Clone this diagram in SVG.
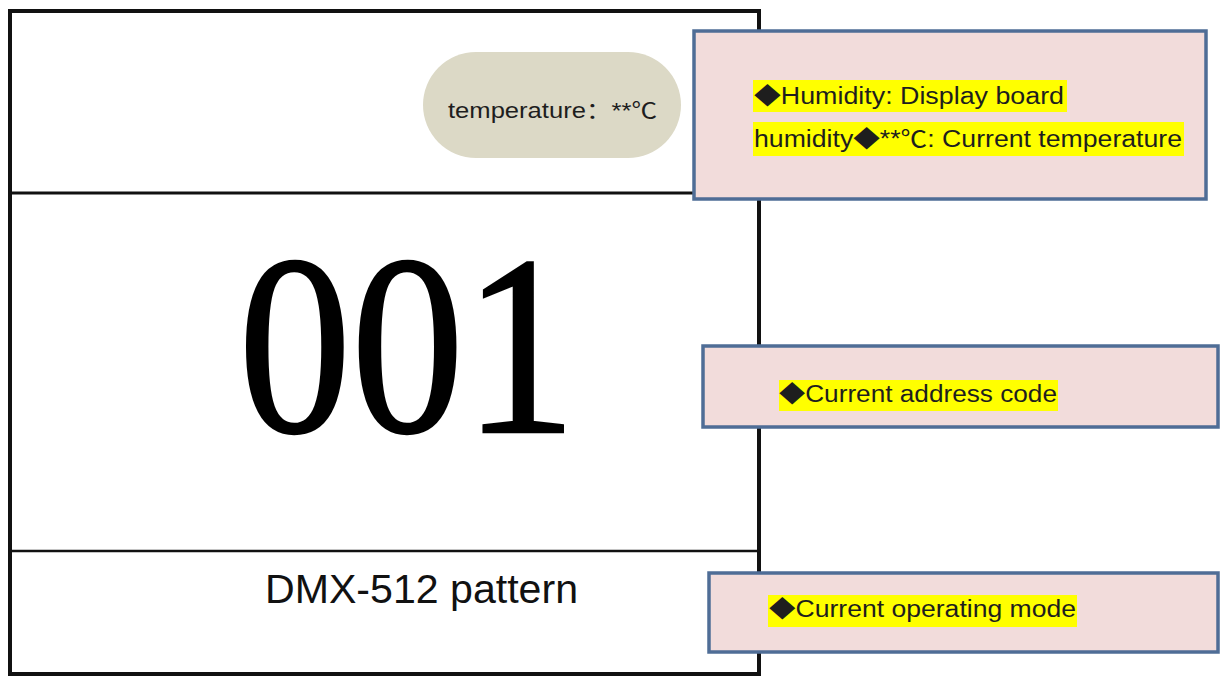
<svg xmlns="http://www.w3.org/2000/svg" width="1220" height="677" viewBox="0 0 1220 677">
<style>
.note{fill:#f2dcdb;stroke:#4f6d96;stroke-width:3.5}
.hl{fill:#ffff00}
.nt{font-family:"Liberation Sans","Noto Sans CJK SC",sans-serif;font-size:23px;fill:#1e1e1e}
.ln{stroke:#111;fill:none}
.big{font-family:"Liberation Serif",serif;font-size:256px;fill:#000;stroke:#000;stroke-width:2.5}
</style>
<rect width="1220" height="677" fill="#ffffff"/>
<g id="panel">
<rect class="ln" x="10" y="11" width="749" height="663" stroke-width="4"/>
<line class="ln" x1="10" y1="193" x2="759" y2="193" stroke-width="3"/>
<line class="ln" x1="10" y1="551" x2="759" y2="551" stroke-width="2.5"/>
</g>
<g id="temp-pill">
<rect x="423" y="52" width="258" height="106" rx="53" fill="#dcd9c6"/>
<text x="448" y="118" font-family="Liberation Sans,'Noto Sans CJK SC',sans-serif" font-size="22" fill="#1e1e1e" textLength="209" lengthAdjust="spacingAndGlyphs">temperature：**℃</text>
</g>
<g id="address">
<text class="big" transform="translate(243,432) scale(0.88,1)" x="-5" y="0">001</text>
</g>
<g id="mode">
<text x="265" y="603" font-family="'Liberation Sans',sans-serif" font-size="41" fill="#111" textLength="313" lengthAdjust="spacingAndGlyphs">DMX-512 pattern</text>
</g>
<g id="note-humidity">
<rect class="note" x="694" y="31" width="512" height="168"/>
<rect class="hl" x="753" y="80" width="314" height="32"/>
<rect class="hl" x="753" y="122" width="431" height="34"/>
<text class="nt" x="754" y="104" textLength="310" lengthAdjust="spacingAndGlyphs">◆Humidity: Display board</text>
<text class="nt" x="754" y="147" textLength="428" lengthAdjust="spacingAndGlyphs">humidity◆**℃: Current temperature</text>
</g>
<g id="note-address">
<rect class="note" x="703" y="346" width="515" height="81"/>
<rect class="hl" x="779" y="380" width="279" height="31"/>
<text class="nt" x="779" y="402" textLength="278" lengthAdjust="spacingAndGlyphs">◆Current address code</text>
</g>
<g id="note-mode">
<rect class="note" x="709" y="573" width="509" height="79"/>
<rect class="hl" x="768" y="595" width="309" height="32"/>
<text class="nt" x="769" y="617" textLength="307" lengthAdjust="spacingAndGlyphs">◆Current operating mode</text>
</g>
<g id="connectors"></g>
</svg>
